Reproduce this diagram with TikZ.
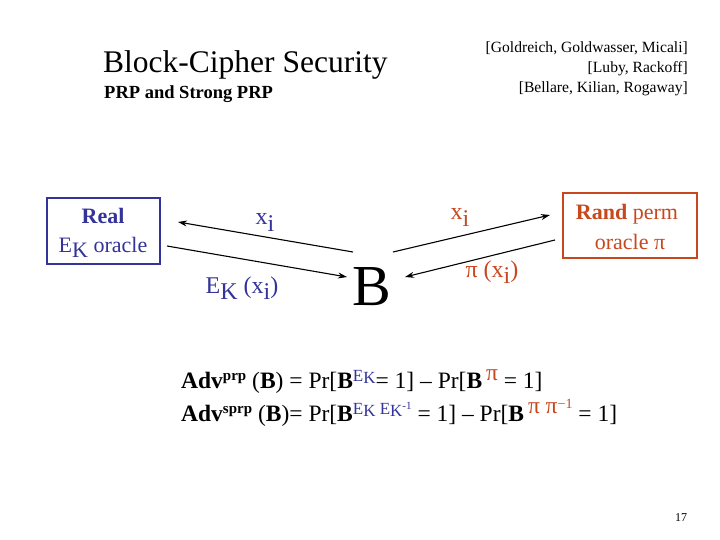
\documentclass[tikz,border=0pt]{standalone}
\usepackage{fontspec}
\usetikzlibrary{arrows.meta}
\setmainfont{Liberation Serif}
\definecolor{bl}{HTML}{333399}
\definecolor{org}{HTML}{C8481E}
\begin{document}
\begin{tikzpicture}[x=1pt,y=-1pt,
  arr/.style={-{Stealth[length=9pt,width=6pt]},line width=1.1pt},
  t/.style={inner sep=0pt,anchor=base}]
\useasboundingbox[fill=white] (0,0) rectangle (720,540);
\node[t,anchor=base west,font=\fontsize{31.5}{31.5}\selectfont] (title) at (103,73) {Block-Cipher Security};
\node[t,anchor=base west,font=\bfseries\fontsize{18.5}{18.5}\selectfont] (sub) at (104,99) {PRP and Strong PRP};
\node[t,anchor=base east,font=\fontsize{15.6}{15.6}\selectfont] (c1) at (688,53) {[Goldreich, Goldwasser, Micali]};
\node[t,anchor=base east,font=\fontsize{15.6}{15.6}\selectfont] (c2) at (688,73) {[Luby, Rackoff]};
\node[t,anchor=base east,font=\fontsize{15.6}{15.6}\selectfont] (c3) at (688,93) {[Bellare, Kilian, Rogaway]};
\draw[bl,line width=1.2pt] (47,198) rectangle (160,264);
\node[t,bl,font=\bfseries\fontsize{22}{22}\selectfont] (real) at (103,224) {Real};
\node[t,bl,font=\fontsize{22}{22}\selectfont] (ek) at (103,252) {E\raisebox{-5pt}{K} oracle};
\draw[org,line width=1.2pt] (563,193) rectangle (697,258);
\node[t,org,font=\fontsize{22}{22}\selectfont] (rp) at (627,219) {\textbf{Rand} perm};
\node[t,org,font=\fontsize{22}{22}\selectfont] (or) at (630,249) {oracle π};
\node[t,bl,font=\fontsize{24}{24}\selectfont] (x1) at (265,225) {x\raisebox{-6pt}{i}};
\node[t,bl,font=\fontsize{24}{24}\selectfont] (e1) at (242,293) {E\raisebox{-6pt}{K} (x\raisebox{-6pt}{i})};
\node[t,org,font=\fontsize{24}{24}\selectfont] (x2) at (460,220) {x\raisebox{-6pt}{i}};
\node[t,org,font=\fontsize{24}{24}\selectfont] (p2) at (492,277) {π (x\raisebox{-6pt}{i})};
\node[t,font=\fontsize{58}{58}\selectfont] (B) at (372,305) {B};
\coordinate (a1s) at (353,252); \coordinate (a1e) at (178,222);
\coordinate (a2s) at (167,246); \coordinate (a2e) at (347,277);
\coordinate (a3s) at (393,252); \coordinate (a3e) at (550,215);
\coordinate (a4s) at (555,240); \coordinate (a4e) at (405,277);
\draw[arr] (a1s) -- (a1e);
\draw[arr] (a2s) -- (a2e);
\draw[arr] (a3s) -- (a3e);
\draw[arr] (a4s) -- (a4e);
\node[t,anchor=base west,font=\fontsize{23.5}{23.5}\selectfont] (adv1) at (181,388)
 {\textbf{Adv}\raisebox{8pt}{\fontsize{15}{15}\selectfont\textbf{prp}} (\textbf{B}) = Pr[\textbf{B}\raisebox{7pt}{\textcolor{bl}{\fontsize{17}{17}\selectfont E\raisebox{-2pt}{K}}}= 1] – Pr[\textbf{B}\,\raisebox{8pt}{\textcolor{org}{π}} = 1]};
\node[t,anchor=base west,font=\fontsize{23.5}{23.5}\selectfont] (adv2) at (181,421)
 {\textbf{Adv}\raisebox{8pt}{\fontsize{15}{15}\selectfont\textbf{sprp}} (\textbf{B})= Pr[\textbf{B}\raisebox{7pt}{\textcolor{bl}{\fontsize{17}{17}\selectfont E\raisebox{-2pt}{K} E\raisebox{-2pt}{K}\raisebox{5pt}{\fontsize{11}{11}\selectfont -1}}} = 1] – Pr[\textbf{B}\,\raisebox{8pt}{\textcolor{org}{π π\raisebox{5pt}{\fontsize{14}{14}\selectfont −1}}} = 1]};
\node[t,font=\fontsize{12}{12}\selectfont] (pg) at (681,521) {17};
\end{tikzpicture}
\end{document}
